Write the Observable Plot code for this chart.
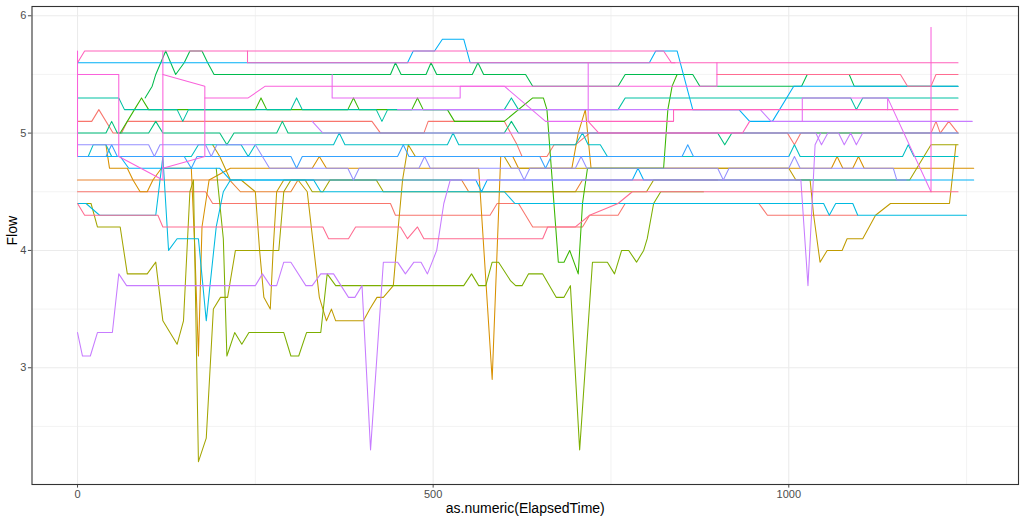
<!DOCTYPE html>
<html><head><meta charset="utf-8">
<script src="https://cdn.jsdelivr.net/npm/d3@7"></script>
<script src="https://cdn.jsdelivr.net/npm/@observablehq/plot@0.6"></script>
<style>
html,body{margin:0;padding:0;background:#fff;}
#chart{width:1024px;height:519px;overflow:hidden;}
</style></head><body><div id="chart"></div>
<script>
// ggplot2 default hue palette (20 groups)
const palette = ["#F8766D","#EA8331","#D89000","#C09B00","#A3A500","#7CAE00","#39B600","#00BB4E","#00BF7D","#00C1A3","#00BFC4","#00BAE0","#00B0F6","#35A2FF","#9590FF","#C77CFF","#E76BF3","#FA62DB","#FF62BC","#FF6C91"];

const xTicks = [0, 500, 1000];
const xMinor = [250, 750, 1250];
const yTicks = [3, 4, 5, 6];
const yMinor = [2.5, 3.5, 4.5, 5.5];
const xTitle = "as.numeric(ElapsedTime)";
const yTitle = "Flow";

// series: [ElapsedTime, Flow]
const s01 = [[0,5.6],[10,5.7],[824,5.7],[835,5.6],[1238,5.6]];
const s02 = [[239,5.7],[239,5.6],[840,5.6]];
const s03 = [[179,5.3],[240,5.3],[264,5.4],[899,5.4],[899,5.6]];
const s04 = [[899,5.5],[1157,5.5],[1167,5.4],[1200,5.4],[1207,5.5],[1238,5.5]];
const s05 = [[0,5.6],[464,5.6],[472,5.7],[502,5.7],[513,5.8],[543,5.8],[552,5.6],[804,5.6],[813,5.7],[843,5.7],[865,5.2],[930,5.2],[945,5.1],[977,5.1],[1007,5.4],[1238,5.4]];
const s06 = [[95,5.3],[105,5.4],[110,5.5],[117,5.6],[124,5.7],[131,5.6],[138,5.5],[150,5.6],[158,5.7],[175,5.7],[183,5.6],[192,5.5],[440,5.5],[447,5.6],[455,5.5],[490,5.5],[497,5.6],[505,5.5],[555,5.5],[563,5.6],[571,5.5],[630,5.5],[640,5.4],[760,5.4],[770,5.5],[795,5.5],[865,5.5],[875,5.4],[1018,5.4],[1026,5.5],[1085,5.5],[1092,5.4],[1238,5.4]];
const s07 = [[60,5.0],[70,5.1],[80,5.2],[90,5.3],[100,5.2],[250,5.2],[258,5.3],[266,5.2],[380,5.2],[388,5.3],[396,5.2],[470,5.2],[478,5.3],[486,5.2],[520,5.2],[530,5.1],[600,5.1],[640,5.3],[655,5.3],[660,5.2],[676,3.9],[684,3.9],[692,4.0],[704,3.8],[710,4.4],[717,4.7],[824,4.7],[830,5.2],[836,5.4],[843,5.5]];
const s08 = [[0,4.8],[0,5.7],[0,5.5],[58,5.5],[58,4.8],[120,4.6],[120,5.7]];
const s09 = [[120,4.7],[179,4.8],[179,5.4],[120,5.5]];
const s10 = [[358,5.5],[358,5.3],[538,5.3],[538,5.4],[600,5.4],[658,5.1],[718,5.1],[718,5.6]];
const s11 = [[718,5.1],[733,5.0],[935,5.0],[945,5.1]];
const s12 = [[718,5.1],[838,5.1],[838,5.2],[1238,5.2]];
const s13 = [[1019,5.1],[1019,5.3],[1139,5.3],[1139,5.2],[1139,5.3],[1200,4.5]];
const s14 = [[1200,5.9],[1200,4.5]];
const s15 = [[0,5.3],[58,5.3],[66,5.2],[140,5.2],[148,5.1],[156,5.2],[300,5.2],[308,5.3],[316,5.2],[420,5.2],[428,5.1],[436,5.2],[600,5.2],[610,5.3],[620,5.2],[760,5.2],[770,5.3],[1087,5.3],[1095,5.2],[1104,5.3],[1238,5.3]];
const s16 = [[0,4.8],[15,4.8],[22,4.9],[40,4.9],[48,4.8],[160,4.8],[170,4.9],[230,4.9],[240,4.8],[250,4.9],[360,4.9],[368,5.0],[376,4.9],[520,4.9],[528,5.0],[536,4.9],[700,4.9],[710,5.0],[718,4.9],[735,4.9],[745,4.8],[1000,4.8],[1008,4.9],[1016,4.8],[1160,4.8],[1168,4.9],[1176,4.8],[1238,4.8]];
const s17 = [[0,4.9],[100,4.9],[108,4.8],[116,4.9],[180,4.9],[188,4.8],[196,4.9],[250,4.9],[260,4.8],[270,4.7],[380,4.7],[388,4.6],[396,4.7],[480,4.7],[488,4.8],[496,4.7],[620,4.7],[628,4.6],[636,4.7],[700,4.7],[708,4.8],[716,4.7],[900,4.7],[908,4.6],[916,4.7],[1000,4.7],[1008,4.8],[1016,4.7],[1147,4.7],[1152,4.6],[1165,4.6]];
const s18 = [[0,3.3],[7,3.1],[18,3.1],[28,3.3],[49,3.3],[58,3.8],[69,3.7],[250,3.7],[260,3.8],[271,3.7],[280,3.7],[290,3.9],[300,3.9],[321,3.7],[330,3.7],[342,3.8],[360,3.8],[381,3.6],[390,3.6],[400,3.7],[412,2.3],[430,3.9],[450,3.9],[461,3.8],[473,3.9],[483,3.9],[492,3.8],[505,4.0],[515,4.4],[524,4.6],[1017,4.6],[1027,3.7],[1037,4.9],[1045,5.0]];
const s19 = [[330,5.1],[345,5.0],[1038,5.0],[1046,4.9],[1055,5.0],[1070,5.0],[1078,4.9],[1087,5.0],[1095,4.9],[1104,5.0],[1238,5.0]];
const s20 = [[450,5.2],[960,5.2],[975,5.1],[1258,5.1]];
const s21 = [[0,5.0],[40,5.0],[48,5.1],[56,5.0],[100,5.0],[110,5.1],[120,5.0],[200,5.0],[210,4.9],[220,5.0],[280,5.0],[288,5.1],[296,5.0],[600,5.0],[610,5.1],[620,5.0],[900,5.0],[910,4.9],[920,5.0],[1238,5.0]];
const s22 = [[0,4.8],[40,4.8],[48,4.9],[56,4.8],[150,4.8],[160,4.7],[168,4.8],[300,4.8],[308,4.7],[316,4.8],[450,4.8],[458,4.9],[466,4.8],[650,4.8],[658,4.7],[666,4.8],[850,4.8],[858,4.9],[866,4.8],[1000,4.8]];
const s23 = [[0,4.6],[214,4.6],[229,4.5],[300,4.5],[310,4.6],[540,4.6],[550,4.5],[700,4.5],[710,4.6],[900,4.6]];
const s24 = [[40,4.9],[45,4.7],[70,4.7],[78,4.6],[88,4.5],[98,4.5],[106,4.6],[118,4.7],[160,4.7],[165,4.0],[170,3.1],[175,4.2],[185,4.6],[215,4.7],[330,4.7],[340,4.8],[350,4.7],[564,4.7],[583,2.9],[595,4.8],[612,4.8],[620,4.7],[695,4.7],[704,5.0],[714,5.2],[722,4.7],[1060,4.7],[1068,4.8],[1076,4.7],[1090,4.7],[1098,4.8],[1106,4.7],[1260,4.7]];
const s25 = [[0,4.5],[180,4.5],[190,4.4],[440,4.4],[447,4.3],[580,4.3],[590,4.4],[620,4.4],[630,4.3],[640,4.2],[710,4.2],[720,4.3],[760,4.3],[770,4.4],[958,4.4],[970,4.3],[1097,4.3]];
const s26 = [[0,4.4],[10,4.3],[113,4.3],[120,4.2],[345,4.2],[353,4.1],[381,4.1],[391,4.2],[454,4.2],[464,4.1],[478,4.2],[487,4.1],[654,4.1],[661,4.2],[700,4.2],[720,4.3],[760,4.4],[780,4.5],[1238,4.5]];
const s27 = [[0,5.1],[20,5.1],[30,5.2],[50,5.0],[62,5.0],[70,5.1],[414,5.1],[426,5.0],[487,5.0],[493,5.1],[600,5.1],[618,4.9],[625,4.8],[660,4.8],[670,4.9],[700,4.9],[720,5.0],[998,5.0],[1008,4.9],[1017,5.0],[1200,5.0],[1207,5.1],[1213,5.0],[1225,5.1],[1238,5.0]];
const s28 = [[0,4.4],[12,4.4],[31,4.3],[110,4.3],[120,4.8],[128,4.0],[140,4.1],[170,4.1],[181,3.4],[195,4.2],[205,4.5],[215,4.6],[332,4.6],[342,4.5],[600,4.5],[615,4.4],[1049,4.4],[1057,4.3],[1066,4.4],[1090,4.4],[1097,4.3],[1250,4.3]];
const s29 = [[0,4.8],[60,4.8],[72,4.7],[200,4.7],[215,4.6],[560,4.6],[568,4.5],[576,4.6],[780,4.6],[788,4.7],[796,4.6],[1260,4.6]];
const s30 = [[0,4.4],[19,4.4],[28,4.2],[60,4.2],[70,3.8],[98,3.8],[110,3.9],[120,3.4],[140,3.2],[149,3.4],[158,4.5],[163,4.6],[170,2.2],[181,2.4],[191,3.5],[201,3.6],[211,3.6],[222,4.0],[283,4.0],[290,4.5],[300,4.6],[320,4.6],[330,4.5],[345,4.5],[355,4.6],[420,4.6],[430,4.5],[800,4.5],[810,4.6],[1170,4.6],[1180,4.7],[1190,4.8],[1200,4.9],[1238,4.9]];
const s31 = [[190,4.9],[200,4.8],[215,4.6],[230,4.6],[250,4.5],[256,4.0],[262,3.6],[271,3.5],[275,4.0],[280,4.5],[290,4.6],[310,4.6],[323,4.5],[340,3.6],[350,3.4],[357,3.5],[363,3.4],[402,3.4],[411,3.5],[421,3.6],[430,3.6],[444,3.7],[451,4.2],[457,4.6],[465,4.9],[475,4.8],[600,4.8],[610,4.7],[1000,4.7],[1010,4.6],[1030,4.6],[1035,4.3],[1044,3.9],[1054,4.0],[1075,4.0],[1082,4.1],[1104,4.1],[1122,4.3],[1143,4.4],[1226,4.4],[1235,4.9]];
const s32 = [[195,4.7],[205,4.1],[210,3.1],[221,3.3],[231,3.2],[241,3.3],[290,3.3],[300,3.1],[311,3.1],[322,3.3],[342,3.3],[351,3.8],[363,3.7],[543,3.7],[554,3.8],[564,3.7],[574,3.7],[583,3.9],[592,3.9],[609,3.74],[616,3.7],[625,3.7],[634,3.8],[654,3.8],[673,3.6],[684,3.6],[693,3.7],[706,2.3],[724,3.9],[745,3.9],[755,3.8],[765,4.0],[775,4.0],[786,3.9],[796,4.0],[801,4.1],[810,4.4],[820,4.5],[880,4.5]];

// series name, points, colour group
const seriesList = [
  ["s01",s01,18],["s02",s02,18],["s03",s03,17],["s04",s04,19],["s05",s05,12],
  ["s06",s06,7],["s07",s07,6],["s08",s08,17],["s09",s09,17],["s10",s10,16],
  ["s11",s11,18],["s12",s12,18],["s13",s13,16],["s14",s14,17],["s15",s15,9],
  ["s16",s16,10],["s17",s17,14],["s18",s18,15],["s19",s19,15],["s20",s20,15],
  ["s21",s21,8],["s22",s22,13],["s23",s23,1],["s24",s24,2],["s25",s25,0],
  ["s26",s26,19],["s27",s27,0],["s28",s28,11],["s29",s29,12],["s30",s30,4],
  ["s31",s31,3],["s32",s32,5]
];

const ordered = seriesList.map((d, i) => ({d, i})).sort((a, b) => (a.d[2] - b.d[2]) || (a.i - b.i));
const rows = [];
ordered.forEach(({d}) => {
  const [name, pts, ci] = d;
  pts.forEach(([x, y]) => rows.push({id: name, x, y, c: palette[ci]}));
});

const chart = Plot.plot({
  width: 1024,
  height: 519,
  marginLeft: 31.5,
  marginRight: 6,
  marginTop: 6,
  marginBottom: 35,
  x: {domain: [-64, 1323], ticks: xTicks, tickSize: 3.6, tickPadding: 2, tickFormat: d => String(d), label: null},
  y: {domain: [2.005, 6.079], ticks: yTicks, tickSize: 3.6, tickPadding: 2, tickFormat: d => String(d), label: null},
  color: {type: "identity"},
  style: {fontFamily: "'Liberation Sans', Arial, sans-serif", fontSize: "11px", color: "#4D4D4D", background: "#ffffff"},
  marks: [
    Plot.ruleX(xMinor, {stroke: "#EBEBEB", strokeWidth: 0.6}),
    Plot.ruleY(yMinor, {stroke: "#EBEBEB", strokeWidth: 0.6}),
    Plot.ruleX(xTicks, {stroke: "#EBEBEB", strokeWidth: 1.1}),
    Plot.ruleY(yTicks, {stroke: "#EBEBEB", strokeWidth: 1.1}),
    Plot.line(rows, {x: "x", y: "y", z: "id", stroke: "c", strokeWidth: 1.05}),
    Plot.frame({stroke: "#333333", strokeWidth: 1.1}),
    Plot.text([xTitle], {frameAnchor: "bottom", dy: 24, text: d => d, fill: "#000", fontSize: 14, lineAnchor: "middle"}),
    Plot.text([yTitle], {frameAnchor: "left", dx: -19, rotate: -90, text: d => d, fill: "#000", fontSize: 14, lineAnchor: "middle"})
  ]
});
document.getElementById("chart").appendChild(chart);
</script>
</body></html>
